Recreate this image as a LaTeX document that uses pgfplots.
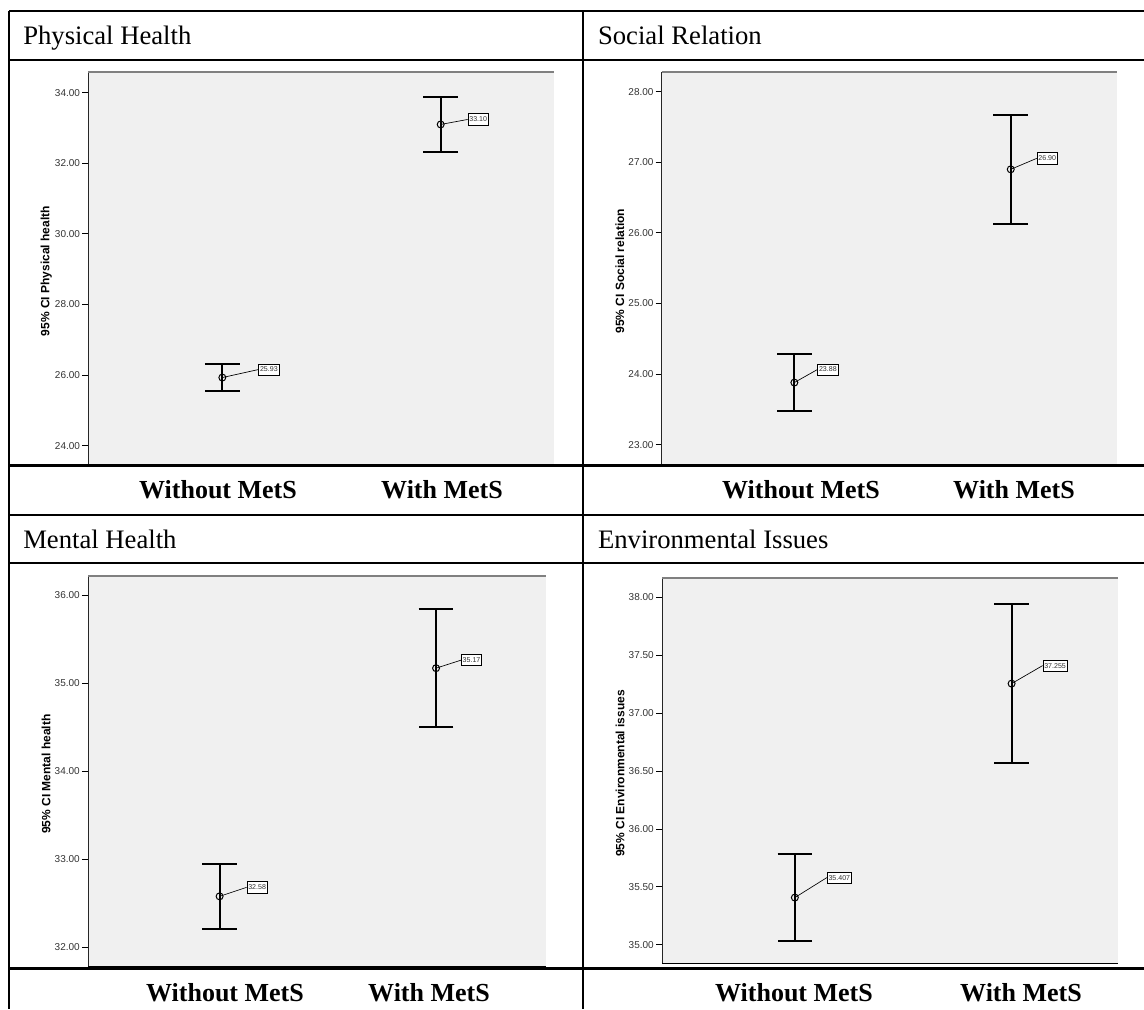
\documentclass[border=0pt]{standalone}
\usepackage{fontspec}
\setmainfont{Liberation Serif}
\setsansfont{Liberation Sans}
\usepackage{pgfplots}
\pgfplotsset{compat=1.18}
\usepackage{pgfplotstable}

\pgfplotstableread{
x y e
0 25.93 0.375
1 33.10 0.77
}\physical
\pgfplotstableread{
x y e
0 23.88 0.40
1 26.90 0.77
}\social
\pgfplotstableread{
x y e
0 32.58 0.365
1 35.17 0.67
}\mental
\pgfplotstableread{
x y e
0 35.407 0.375
1 37.255 0.685
}\environ

\pgfplotsset{
  ciplot/.style={
    scale only axis,
    anchor=south west,
    clip=false,
    axis background/.style={fill=gray!12},
    axis line style={draw=none},
    xtick=\empty,
    ytick pos=left,
    tick align=outside,
    major tick length=4.5pt,
    ytick style={black, line width=0.6pt},
    yticklabel style={font=\sffamily\fontsize{7.5}{8}\selectfont, text=black!80, inner sep=1.5pt,
      /pgf/number format/.cd, fixed, fixed zerofill, precision=2, assume math mode=true},
  },
  ciseries/.style={
    black, only marks, mark=o, mark size=2.6pt,
    mark options={line width=0.75pt, black},
    error bars/.cd, y dir=both, y explicit,
    error bar style={line width=1.5pt, black},
    error mark options={rotate=90, mark size=13pt, line width=1.5pt, black},
  },
}
\tikzset{
  lbl/.style={draw=black, line width=0.5pt, fill=white, anchor=west, inner sep=1pt, minimum height=8.5pt,
    font=\sffamily\fontsize{5.3}{6}\selectfont, text=black!80},
}
\newcommand{\frameaxis}{%
  \draw[black!85, line width=0.75pt] (rel axis cs:0,0) -- (rel axis cs:0,1);
  \draw[gray, line width=1.2pt] (rel axis cs:0,1) -- (rel axis cs:1,1);
  \draw[black, line width=1pt] (rel axis cs:0,0) -- (rel axis cs:1,0);
}
\newcommand{\ylab}[1]{%
  \node[rotate=90, font=\sffamily\bfseries\fontsize{9}{10}\selectfont] at ([xshift=-31.5pt, yshift=-2pt]rel axis cs:0,0.5) {#1};
}
\newcommand{\vlabel}[5]{% x y dx dy text
  \node[lbl] (b) at ([shift={(#3,#4)}]axis cs:#1,#2) {#5};
  \draw[line width=0.5pt] (axis cs:#1,#2) -- (b.west);
}

\begin{document}
\begin{tikzpicture}
\useasboundingbox (0,0) rectangle (858pt,-756.75pt);

% Physical Health
\begin{axis}[ciplot, at={(66.2pt,-348.75pt)}, width=349.3pt, height=294.75pt,
  xmin=-0.614, xmax=1.519, ymin=23.453, ymax=34.586, ytick={24,26,...,34}]
  \addplot+[ciseries] table[x=x, y=y, y error=e] {\physical};
  \frameaxis
  \ylab{95\% CI Physical health}
  \vlabel{0}{25.93}{27pt}{6pt}{25.93}
  \vlabel{1}{33.10}{20.25pt}{3.75pt}{33.10}
\end{axis}

% Social Relation
\begin{axis}[ciplot, at={(496.3pt,-348.75pt)}, width=341.1pt, height=294.75pt,
  xmin=-0.613, xmax=1.489, ymin=22.712, ymax=28.279, ytick={23,24,...,28}]
  \addplot+[ciseries] table[x=x, y=y, y error=e] {\social};
  \frameaxis
  \ylab{95\% CI Social relation}
  \vlabel{0}{23.88}{17.25pt}{9.75pt}{23.88}
  \vlabel{1}{26.90}{19.5pt}{8.25pt}{26.90}
\end{axis}

% Mental Health
\begin{axis}[ciplot, at={(66pt,-725.25pt)}, width=343.5pt, height=293.25pt,
  xmin=-0.608, xmax=1.508, ymin=31.778, ymax=36.216, ytick={32,33,...,36}]
  \addplot+[ciseries] table[x=x, y=y, y error=e] {\mental};
  \frameaxis
  \ylab{95\% CI Mental health}
  \vlabel{0}{32.58}{20.25pt}{6.75pt}{32.58}
  \vlabel{1}{35.17}{18.75pt}{6pt}{35.17}
\end{axis}

% Environmental Issues
\begin{axis}[ciplot, at={(496.5pt,-722.5pt)}, width=342pt, height=289pt,
  xmin=-0.613, xmax=1.491, ymin=34.839, ymax=38.167, ytick={35,35.5,...,38}]
  \addplot+[ciseries] table[x=x, y=y, y error=e] {\environ};
  \frameaxis
  \ylab{95\% CI Environmental issues}
  \vlabel{0}{35.407}{24pt}{15pt}{35.407}
  \vlabel{1}{37.255}{23.25pt}{13.5pt}{37.255}
\end{axis}

% table rules
\draw[line width=1.5pt] (6.75pt,-8.25pt) -- (858pt,-8.25pt);
\draw[line width=1.5pt] (6.75pt,-45pt) -- (858pt,-45pt);
\draw[line width=2.25pt] (6.75pt,-349.1pt) -- (858pt,-349.1pt);
\draw[line width=1.5pt] (6.75pt,-386.25pt) -- (858pt,-386.25pt);
\draw[line width=1.5pt] (6.75pt,-422.6pt) -- (858pt,-422.6pt);
\draw[line width=2.25pt] (6.75pt,-726.4pt) -- (858pt,-726.4pt);
\draw[line width=1.5pt] (6.75pt,-8.25pt) -- (6.75pt,-756.75pt);
\draw[line width=1.5pt] (437.25pt,-8.25pt) -- (437.25pt,-756.75pt);

% titles
\node[anchor=base west, font=\fontsize{20}{24}\selectfont, inner sep=0] at (17.25pt,-33.2pt) {Physical Health};
\node[anchor=base west, font=\fontsize{20}{24}\selectfont, inner sep=0] at (448.35pt,-33.2pt) {Social Relation};
\node[anchor=base west, font=\fontsize{20}{24}\selectfont, inner sep=0] at (17.25pt,-411.2pt) {Mental Health};
\node[anchor=base west, font=\fontsize{20}{24}\selectfont, inner sep=0] at (448.35pt,-411.2pt) {Environmental Issues};

% group labels
\node[anchor=base, font=\bfseries\fontsize{19.5}{23}\selectfont, inner sep=0] at (163.5pt,-373.7pt) {Without MetS};
\node[anchor=base, font=\bfseries\fontsize{19.5}{23}\selectfont, inner sep=0] at (331.5pt,-373.7pt) {With MetS};
\node[anchor=base, font=\bfseries\fontsize{19.5}{23}\selectfont, inner sep=0] at (600.75pt,-373.7pt) {Without MetS};
\node[anchor=base, font=\bfseries\fontsize{19.5}{23}\selectfont, inner sep=0] at (760.5pt,-373.7pt) {With MetS};
\node[anchor=base, font=\bfseries\fontsize{19.5}{23}\selectfont, inner sep=0] at (168.75pt,-751.3pt) {Without MetS};
\node[anchor=base, font=\bfseries\fontsize{19.5}{23}\selectfont, inner sep=0] at (321.75pt,-751.3pt) {With MetS};
\node[anchor=base, font=\bfseries\fontsize{19.5}{23}\selectfont, inner sep=0] at (595.5pt,-751.3pt) {Without MetS};
\node[anchor=base, font=\bfseries\fontsize{19.5}{23}\selectfont, inner sep=0] at (765.75pt,-751.3pt) {With MetS};
\end{tikzpicture}
\end{document}
